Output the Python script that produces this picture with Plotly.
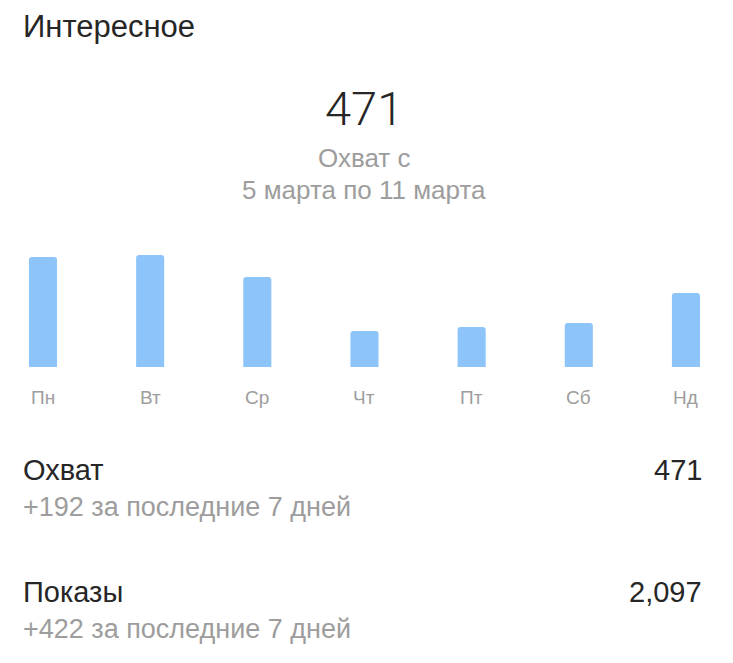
import plotly.graph_objects as go

days = ["Пн", "Вт", "Ср", "Чт", "Пт", "Сб", "Нд"]
reach_daily = [110, 112, 90, 36, 40, 44, 74]

title_text = "Интересное"
big_value = "471"
subtitle_1 = "Охват с"
subtitle_2 = "5 марта по 11 марта"
stat_names = ["Охват", "Показы"]
stat_values = ["471", "2,097"]
stat_changes = ["+192 за последние 7 дней", "+422 за последние 7 дней"]

W, H = 733, 663
T, B = 247, 367  # plot area top/bottom in px
FONT = "Liberation Sans"
DARK = "#262626"
GRAY = "#9d9d9d"
BLUE = "#8dc5fb"

fig = go.Figure()
fig.add_trace(go.Bar(
    x=list(range(len(days))), y=reach_daily,
    width=0.262, marker=dict(color=BLUE, cornerradius=3, line=dict(width=0)),
    hoverinfo="skip",
))

for i, d in enumerate(days):
    fig.add_annotation(x=i, xref="x", y=(B - 397) / (B - T), yref="paper", text=d,
                       showarrow=False, font=dict(family=FONT, size=19, color=GRAY),
                       xanchor="center", yanchor="middle")

def text_at(x, y, txt, size, color, xanchor="left", weight=400, family=FONT):
    fig.add_annotation(x=x / W, y=(B - y) / (B - T), xref="paper", yref="paper", text=txt,
                       showarrow=False, xanchor=xanchor, yanchor="middle",
                       font=dict(family=family, size=size, color=color, weight=weight))

text_at(21, 27, title_text, 31, DARK)
text_at(364, 108, big_value, 47, DARK, "center", weight=300, family="Roboto")
text_at(364, 158, subtitle_1, 26, GRAY, "center")
text_at(364, 190, subtitle_2, 26, GRAY, "center")
for k, (n, v, c) in enumerate(zip(stat_names, stat_values, stat_changes)):
    y0 = 470 + k * 122
    text_at(21, y0, n, 29, DARK)
    text_at(704, y0, v, 29, DARK, "right")
    text_at(21, y0 + 37, c, 27, GRAY)

fig.update_layout(
    width=W, height=H, margin=dict(l=0, r=0, t=T, b=H - B, pad=0),
    paper_bgcolor="white", plot_bgcolor="white", showlegend=False,
    xaxis=dict(range=[-0.4013, 6.439], visible=False, fixedrange=True),
    yaxis=dict(range=[0, 120], visible=False, fixedrange=True),
)
fig.write_html("out.html", config={"displayModeBar": False})
